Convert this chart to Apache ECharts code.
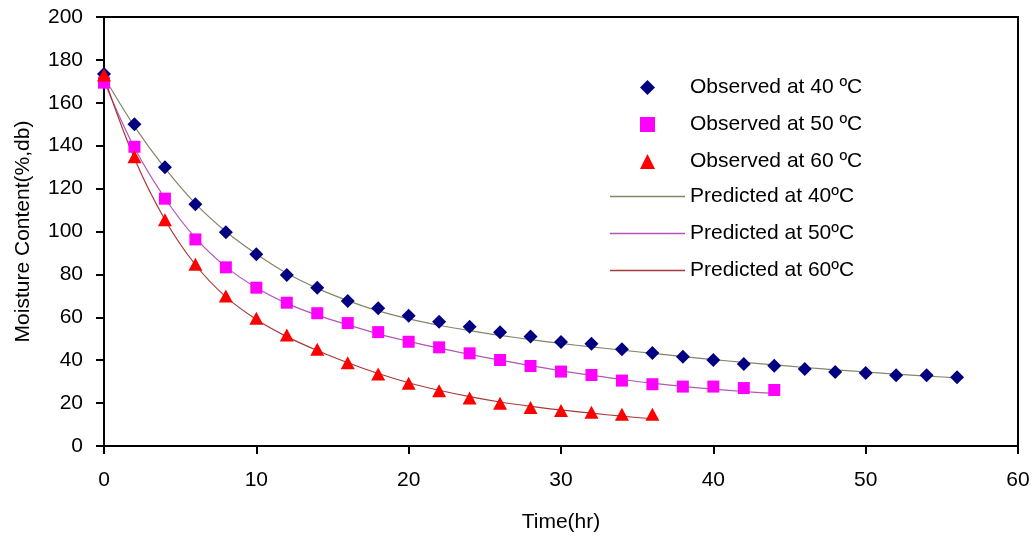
<!DOCTYPE html>
<html>
<head>
<meta charset="utf-8">
<script src="https://cdn.jsdelivr.net/npm/echarts@6/dist/echarts.min.js"></script>
<style>
html,body{margin:0;padding:0;background:#fff;}
#chart{width:1032px;height:536px;}
</style>
</head>
<body>
<div id="chart"></div>
<script>
// Time (hr)
var time40 = [0,2,4,6,8,10,12,14,16,18,20,22,24,26,28,30,32,34,36,38,40,42,44,46,48,50,52,54,56];
var time50 = [0,2,4,6,8,10,12,14,16,18,20,22,24,26,28,30,32,34,36,38,40,42,44];
var time60 = [0,2,4,6,8,10,12,14,16,18,20,22,24,26,28,30,32,34,36];

// Observed moisture content (%, db)
var obs40 = [173.4,150,130,112.7,99.7,89.4,79.7,73.8,67.6,64.2,60.7,57.9,55.6,53.0,51.1,48.5,47.7,45.1,43.4,41.6,40.1,38.2,37.4,35.9,34.5,34.0,33.0,33.0,32.0];
var obs50 = [169.4,139.5,115.3,96.3,83.3,73.8,66.8,61.9,57.3,53.1,48.6,46.0,43.2,40.1,37.3,34.7,33.1,30.5,28.8,27.7,27.7,27.0,26.1];
var obs60 = [173.0,134.9,105.5,84.7,69.9,59.5,51.7,45.1,38.8,33.6,29.2,25.8,22.4,19.9,17.9,16.5,15.7,14.8,14.8];

// Predicted moisture content (%, db)
var pred40 = [172,149,129.5,113,100,89.5,80.5,73.5,67.8,63,59.3,56.3,53.8,51.6,49.6,47.8,46.2,44.7,43.2,41.7,40.3,39,37.8,36.6,35.5,34.5,33.5,32.6,31.8];
var pred50 = [170,139,115.5,97,83.5,73.8,66.5,61,56.5,52.3,48.8,45.6,42.7,40,37.5,35,33,31,29.3,27.8,26.5,25.4,24.5];
var pred60 = [172,134,105.5,84.5,69.5,59,51,44.5,38.8,33.8,29.5,26,23,20.5,18.5,16.8,15.3,13.9,12.7];

var obsNames = ['Observed at 40 \u00baC','Observed at 50 \u00baC','Observed at 60 \u00baC'];
var predNames = ['Predicted at 40\u00baC','Predicted at 50\u00baC','Predicted at 60\u00baC'];
var xTicks = [0,10,20,30,40,50,60];
var yTicks = [0,20,40,60,80,100,120,140,160,180,200];

var obsColors = ['#000080','#ff00ff','#ff0000'];
var predColors = ['#85856a','#b455b8','#a83a3a'];
var obsSymbols = ['diamond','rect','triangle'];

function pairs(xs, ys){ return xs.map(function(x,i){ return [x, ys[i]]; }); }

var FONT = '"Liberation Sans", Arial, sans-serif';
var chart = echarts.init(document.getElementById('chart'), null, {renderer:'canvas'});
var option = {
  animation: false,
  backgroundColor: '#ffffff',
  textStyle: {fontFamily: FONT, color: '#000'},
  grid: {left:104, right:14, top:17, bottom:90, show:true, borderColor:'#000', borderWidth:2,
         backgroundColor:'transparent', containLabel:false, outerBoundsMode:'none'},
  legend: [
    {
      orient: 'vertical', left: 640, top: 77, padding: 0,
      itemWidth: 15, itemHeight: 15, itemGap: 16,
      textStyle: {fontFamily: FONT, fontSize: 21, color:'#000', padding:[0,0,0,30]},
      data: obsNames.map(function(n,i){ return {name:n, icon: obsSymbols[i]}; })
    },
    {
      orient: 'vertical', left: 610, top: 186, padding: 0,
      itemWidth: 75, itemHeight: 1.5, itemGap: 16,
      textStyle: {fontFamily: FONT, fontSize: 21, color:'#000'},
      data: predNames.map(function(n){ return {name:n, icon:'rect'}; })
    }
  ],
  xAxis: {
    type: 'value', min: xTicks[0], max: xTicks[xTicks.length-1], interval: 10,
    name: 'Time(hr)', nameLocation: 'middle', nameGap: 66,
    nameTextStyle: {fontFamily: FONT, fontSize: 21, color:'#000'},
    axisLine: {show:true, onZero:false, lineStyle:{color:'#000', width:2}},
    axisTick: {show:true, inside:false, length:8, lineStyle:{color:'#000', width:2}},
    axisLabel: {margin: 24, fontFamily: FONT, fontSize: 21, color:'#000'},
    splitLine: {show:false}
  },
  yAxis: {
    type: 'value', min: yTicks[0], max: yTicks[yTicks.length-1], interval: 20,
    name: 'Moisture Content(%,db)', nameLocation: 'middle', nameGap: 70, nameRotate: 90,
    nameTextStyle: {fontFamily: FONT, fontSize: 21, color:'#000'},
    axisLine: {show:true, onZero:false, lineStyle:{color:'#000', width:2}},
    axisTick: {show:true, inside:false, length:8, lineStyle:{color:'#000', width:2}},
    axisLabel: {margin: 21, fontFamily: FONT, fontSize: 21, color:'#000'},
    splitLine: {show:false}
  },
  series: [
    {name: predNames[0], type:'line', data: pairs(time40, pred40), smooth: 0.35, symbol:'none', z:2,
     lineStyle:{color:predColors[0], width:1.2}, itemStyle:{color:predColors[0]}},
    {name: predNames[1], type:'line', data: pairs(time50, pred50), smooth: 0.35, symbol:'none', z:2,
     lineStyle:{color:predColors[1], width:1.2}, itemStyle:{color:predColors[1]}},
    {name: predNames[2], type:'line', data: pairs(time60, pred60), smooth: 0.35, symbol:'none', z:2,
     lineStyle:{color:predColors[2], width:1.2}, itemStyle:{color:predColors[2]}},
    {name: obsNames[0], type:'scatter', data: pairs(time40, obs40), symbol:obsSymbols[0], symbolSize:[14,14], z:5,
     itemStyle:{color:obsColors[0], opacity:1}},
    {name: obsNames[1], type:'scatter', data: pairs(time50, obs50), symbol:obsSymbols[1], symbolSize:[12,12], z:4,
     itemStyle:{color:obsColors[1], opacity:1}},
    {name: obsNames[2], type:'scatter', data: pairs(time60, obs60), symbol:obsSymbols[2], symbolSize:[14,13], z:6,
     itemStyle:{color:obsColors[2], opacity:1}}
  ]
};
chart.setOption(option);
</script>
</body>
</html>
